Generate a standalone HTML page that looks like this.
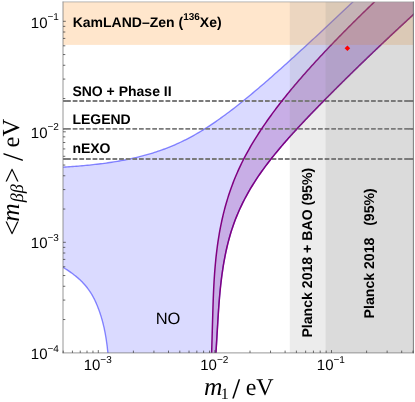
<!DOCTYPE html>
<html><head><meta charset="utf-8"><title>plot</title>
<style>html,body{margin:0;padding:0;background:#fff;}body{width:415px;height:402px;overflow:hidden;font-family:"Liberation Sans",sans-serif;}svg{display:block;will-change:transform}text{text-rendering:geometricPrecision}</style>
</head><body>
<svg width="415" height="402" viewBox="0 0 415 402">
<defs><clipPath id="cp"><rect x="63.0" y="2.0" width="350.4" height="350.9"/></clipPath></defs>
<rect width="415" height="402" fill="#fff"/>
<g clip-path="url(#cp)">
<path d="M61.50,167.27 L63.36,167.15 L65.22,167.04 L67.08,166.91 L68.93,166.79 L70.79,166.65 L72.65,166.52 L74.51,166.38 L76.37,166.23 L78.23,166.08 L80.08,165.92 L81.94,165.76 L83.80,165.59 L85.66,165.42 L87.52,165.24 L89.38,165.05 L91.24,164.86 L93.09,164.66 L94.95,164.45 L96.81,164.24 L98.67,164.01 L100.53,163.78 L102.39,163.55 L104.25,163.30 L106.10,163.05 L107.96,162.78 L109.82,162.51 L111.68,162.23 L113.54,161.94 L115.40,161.64 L117.25,161.33 L119.11,161.01 L120.97,160.67 L122.83,160.33 L124.69,159.97 L126.55,159.61 L128.41,159.23 L130.26,158.84 L132.12,158.43 L133.98,158.02 L135.84,157.59 L137.70,157.14 L139.56,156.68 L141.42,156.21 L143.27,155.72 L145.13,155.22 L146.99,154.70 L148.85,154.16 L150.71,153.61 L152.57,153.04 L154.42,152.45 L156.28,151.85 L158.14,151.23 L160.00,150.59 L161.86,149.93 L163.72,149.25 L165.58,148.56 L167.43,147.84 L169.29,147.11 L171.15,146.35 L173.01,145.57 L174.87,144.78 L176.73,143.96 L178.58,143.12 L180.44,142.26 L182.30,141.38 L184.16,140.48 L186.02,139.53 L187.88,138.57 L189.74,137.59 L191.59,136.58 L193.45,135.55 L195.31,134.50 L197.17,133.43 L199.03,132.34 L200.89,131.22 L202.75,130.09 L204.60,128.93 L206.46,127.76 L208.32,126.56 L210.18,125.35 L212.04,124.11 L213.90,122.86 L215.75,121.59 L217.61,120.29 L219.47,118.99 L221.33,117.66 L223.19,116.32 L225.05,114.96 L226.91,113.58 L228.76,112.19 L230.62,110.78 L232.48,109.36 L234.34,107.92 L236.20,106.47 L238.06,105.01 L239.92,103.54 L241.77,102.05 L243.63,100.55 L245.49,99.04 L247.35,97.51 L249.21,95.98 L251.07,94.44 L252.92,92.89 L254.78,91.32 L256.64,89.75 L258.50,88.17 L260.36,86.59 L262.22,84.99 L264.08,83.39 L265.93,81.78 L267.79,80.16 L269.65,78.53 L271.51,76.90 L273.37,75.27 L275.23,73.62 L277.08,71.97 L278.94,70.32 L280.80,68.66 L282.66,67.00 L284.52,65.33 L286.38,63.65 L288.24,61.98 L290.09,60.29 L291.95,58.61 L293.81,56.92 L295.67,55.23 L297.53,53.53 L299.39,51.83 L301.25,50.12 L303.10,48.42 L304.96,46.71 L306.82,45.00 L308.68,43.28 L310.54,41.56 L312.40,39.85 L314.25,38.12 L316.11,36.40 L317.97,34.67 L319.83,32.94 L321.69,31.21 L323.55,29.48 L325.41,27.75 L327.26,26.01 L329.12,24.28 L330.98,22.54 L332.84,20.80 L334.70,19.06 L336.56,17.31 L338.42,15.57 L340.27,13.83 L342.13,12.08 L343.99,10.33 L345.85,8.59 L347.71,6.84 L349.57,5.09 L351.42,3.34 L353.28,1.59 L355.14,-0.16 L357.00,-1.92 L420.00,-5.00 L417.41,10.90 L416.17,12.04 L414.92,13.19 L413.67,14.33 L412.43,15.48 L411.18,16.62 L409.94,17.76 L408.70,18.91 L407.46,20.05 L406.22,21.20 L404.98,22.34 L403.75,23.48 L402.51,24.63 L401.28,25.77 L400.05,26.91 L398.82,28.06 L397.59,29.20 L396.36,30.35 L395.14,31.49 L393.92,32.63 L392.69,33.78 L391.47,34.92 L390.25,36.07 L389.03,37.21 L387.82,38.35 L386.60,39.50 L385.39,40.64 L384.18,41.79 L382.97,42.93 L381.76,44.07 L380.55,45.22 L379.34,46.36 L378.14,47.51 L376.94,48.65 L375.73,49.79 L374.53,50.94 L373.34,52.08 L372.14,53.22 L370.94,54.37 L369.75,55.51 L368.56,56.66 L367.37,57.80 L366.18,58.94 L364.99,60.09 L363.81,61.23 L362.62,62.38 L361.44,63.52 L360.26,64.66 L359.08,65.81 L357.90,66.95 L356.73,68.10 L355.55,69.24 L354.38,70.38 L353.21,71.53 L352.04,72.67 L350.87,73.81 L349.71,74.96 L348.55,76.10 L347.38,77.25 L346.22,78.39 L345.06,79.53 L343.91,80.68 L342.75,81.82 L341.60,82.97 L340.44,84.11 L339.29,85.25 L338.15,86.40 L337.00,87.54 L335.85,88.69 L334.71,89.83 L333.57,90.97 L332.43,92.12 L331.29,93.26 L330.16,94.41 L329.02,95.55 L327.89,96.69 L326.76,97.84 L325.63,98.98 L324.50,100.12 L323.38,101.27 L322.25,102.41 L321.13,103.56 L320.01,104.70 L318.89,105.84 L317.78,106.99 L316.66,108.13 L315.55,109.28 L314.44,110.42 L313.34,111.56 L312.23,112.71 L311.13,113.85 L310.03,115.00 L308.93,116.14 L307.84,117.28 L306.75,118.43 L305.66,119.57 L304.58,120.72 L303.50,121.86 L302.42,123.00 L301.35,124.15 L300.28,125.29 L299.22,126.43 L298.15,127.58 L297.10,128.72 L296.05,129.87 L295.00,131.01 L293.95,132.15 L292.91,133.30 L291.88,134.44 L290.85,135.59 L289.83,136.73 L288.81,137.87 L287.79,139.02 L286.78,140.16 L285.78,141.31 L284.78,142.45 L283.79,143.59 L282.80,144.74 L281.82,145.88 L280.85,147.02 L279.40,148.74 L277.96,150.46 L276.54,152.17 L275.13,153.89 L273.74,155.60 L272.37,157.32 L271.01,159.04 L269.66,160.75 L268.34,162.47 L267.03,164.18 L265.74,165.90 L264.47,167.62 L263.21,169.33 L261.98,171.05 L260.76,172.76 L259.57,174.48 L258.39,176.19 L257.24,177.91 L256.10,179.63 L254.99,181.34 L253.89,183.06 L252.82,184.77 L251.77,186.49 L250.73,188.21 L249.72,189.92 L248.73,191.64 L247.76,193.35 L246.81,195.07 L245.88,196.78 L244.96,198.50 L244.07,200.22 L243.20,201.93 L242.35,203.65 L241.52,205.36 L240.70,207.08 L239.91,208.80 L239.14,210.51 L238.38,212.23 L237.65,213.94 L236.93,215.66 L236.24,217.38 L235.56,219.09 L234.90,220.81 L234.27,222.52 L233.65,224.24 L233.05,225.95 L232.46,227.67 L231.90,229.39 L231.35,231.10 L230.81,232.82 L230.30,234.53 L229.80,236.25 L229.31,237.97 L228.84,239.68 L228.39,241.40 L227.95,243.11 L227.52,244.83 L227.11,246.54 L226.71,248.26 L226.32,249.98 L225.95,251.69 L225.59,253.41 L225.24,255.12 L224.90,256.84 L224.57,258.56 L224.25,260.27 L223.95,261.99 L223.65,263.70 L223.36,265.42 L223.09,267.14 L222.82,268.85 L222.56,270.57 L222.31,272.28 L222.07,274.00 L221.84,275.71 L221.61,277.43 L221.40,279.15 L221.19,280.86 L220.98,282.58 L220.79,284.29 L220.60,286.01 L220.42,287.73 L220.25,289.44 L220.08,291.16 L219.91,292.87 L219.76,294.59 L219.61,296.30 L219.46,298.02 L219.32,299.74 L219.18,301.45 L219.05,303.17 L218.92,304.88 L218.79,306.60 L218.67,308.32 L218.55,310.03 L218.44,311.75 L218.33,313.46 L218.22,315.18 L218.11,316.89 L218.00,318.61 L217.90,320.33 L217.80,322.04 L217.70,323.76 L217.59,325.47 L217.49,327.19 L217.39,328.91 L217.29,330.62 L217.18,332.34 L217.08,334.05 L216.98,335.77 L216.88,337.49 L216.78,339.20 L216.67,340.92 L216.57,342.63 L216.47,344.35 L216.37,346.06 L216.26,347.78 L216.16,349.50 L216.06,351.21 L215.96,352.93 L215.92,353.50 L107.96,353.50 L107.93,353.21 L107.79,351.91 L107.66,350.61 L107.51,349.30 L107.36,348.00 L107.21,346.70 L107.04,345.39 L106.87,344.09 L106.70,342.79 L106.51,341.49 L106.32,340.18 L106.12,338.88 L105.92,337.58 L105.70,336.28 L105.47,334.97 L105.24,333.67 L104.99,332.37 L104.74,331.07 L104.47,329.76 L104.20,328.46 L103.91,327.16 L103.61,325.85 L103.30,324.55 L102.98,323.25 L102.64,321.95 L102.29,320.64 L101.97,319.49 L101.64,318.33 L101.29,317.17 L100.94,316.01 L100.57,314.85 L100.20,313.70 L99.81,312.54 L99.40,311.38 L98.99,310.22 L98.56,309.06 L98.12,307.91 L97.67,306.75 L97.20,305.59 L96.72,304.43 L96.22,303.27 L95.71,302.12 L95.18,300.96 L94.63,299.80 L94.05,298.64 L93.45,297.49 L92.83,296.33 L92.17,295.17 L91.49,294.01 L90.77,292.85 L90.12,291.84 L89.44,290.83 L88.73,289.81 L87.99,288.80 L87.21,287.79 L86.41,286.77 L85.57,285.76 L84.70,284.75 L83.79,283.73 L82.84,282.72 L82.00,281.85 L81.13,280.98 L80.23,280.12 L79.29,279.25 L78.33,278.38 L77.33,277.51 L76.30,276.64 L75.23,275.77 L74.13,274.91 L73.00,274.04 L72.02,273.31 L71.02,272.59 L70.00,271.87 L68.94,271.14 L67.86,270.42 L66.75,269.69 L65.62,268.97 L64.45,268.25 L63.26,267.52 L62.04,266.80Z" fill="rgb(0,0,255)" fill-opacity="0.145" stroke="none"/>
<path d="M61.50,167.27 L63.36,167.15 L65.22,167.04 L67.08,166.91 L68.93,166.79 L70.79,166.65 L72.65,166.52 L74.51,166.38 L76.37,166.23 L78.23,166.08 L80.08,165.92 L81.94,165.76 L83.80,165.59 L85.66,165.42 L87.52,165.24 L89.38,165.05 L91.24,164.86 L93.09,164.66 L94.95,164.45 L96.81,164.24 L98.67,164.01 L100.53,163.78 L102.39,163.55 L104.25,163.30 L106.10,163.05 L107.96,162.78 L109.82,162.51 L111.68,162.23 L113.54,161.94 L115.40,161.64 L117.25,161.33 L119.11,161.01 L120.97,160.67 L122.83,160.33 L124.69,159.97 L126.55,159.61 L128.41,159.23 L130.26,158.84 L132.12,158.43 L133.98,158.02 L135.84,157.59 L137.70,157.14 L139.56,156.68 L141.42,156.21 L143.27,155.72 L145.13,155.22 L146.99,154.70 L148.85,154.16 L150.71,153.61 L152.57,153.04 L154.42,152.45 L156.28,151.85 L158.14,151.23 L160.00,150.59 L161.86,149.93 L163.72,149.25 L165.58,148.56 L167.43,147.84 L169.29,147.11 L171.15,146.35 L173.01,145.57 L174.87,144.78 L176.73,143.96 L178.58,143.12 L180.44,142.26 L182.30,141.38 L184.16,140.48 L186.02,139.53 L187.88,138.57 L189.74,137.59 L191.59,136.58 L193.45,135.55 L195.31,134.50 L197.17,133.43 L199.03,132.34 L200.89,131.22 L202.75,130.09 L204.60,128.93 L206.46,127.76 L208.32,126.56 L210.18,125.35 L212.04,124.11 L213.90,122.86 L215.75,121.59 L217.61,120.29 L219.47,118.99 L221.33,117.66 L223.19,116.32 L225.05,114.96 L226.91,113.58 L228.76,112.19 L230.62,110.78 L232.48,109.36 L234.34,107.92 L236.20,106.47 L238.06,105.01 L239.92,103.54 L241.77,102.05 L243.63,100.55 L245.49,99.04 L247.35,97.51 L249.21,95.98 L251.07,94.44 L252.92,92.89 L254.78,91.32 L256.64,89.75 L258.50,88.17 L260.36,86.59 L262.22,84.99 L264.08,83.39 L265.93,81.78 L267.79,80.16 L269.65,78.53 L271.51,76.90 L273.37,75.27 L275.23,73.62 L277.08,71.97 L278.94,70.32 L280.80,68.66 L282.66,67.00 L284.52,65.33 L286.38,63.65 L288.24,61.98 L290.09,60.29 L291.95,58.61 L293.81,56.92 L295.67,55.23 L297.53,53.53 L299.39,51.83 L301.25,50.12 L303.10,48.42 L304.96,46.71 L306.82,45.00 L308.68,43.28 L310.54,41.56 L312.40,39.85 L314.25,38.12 L316.11,36.40 L317.97,34.67 L319.83,32.94 L321.69,31.21 L323.55,29.48 L325.41,27.75 L327.26,26.01 L329.12,24.28 L330.98,22.54 L332.84,20.80 L334.70,19.06 L336.56,17.31 L338.42,15.57 L340.27,13.83 L342.13,12.08 L343.99,10.33 L345.85,8.59 L347.71,6.84 L349.57,5.09 L351.42,3.34 L353.28,1.59 L355.14,-0.16 L357.00,-1.92" fill="none" stroke="rgb(40,40,255)" stroke-opacity="0.55" stroke-width="1.35"/>
<path d="M62.04,266.80 L63.26,267.52 L64.45,268.25 L65.62,268.97 L66.75,269.69 L67.86,270.42 L68.94,271.14 L70.00,271.87 L71.02,272.59 L72.02,273.31 L73.00,274.04 L74.13,274.91 L75.23,275.77 L76.30,276.64 L77.33,277.51 L78.33,278.38 L79.29,279.25 L80.23,280.12 L81.13,280.98 L82.00,281.85 L82.84,282.72 L83.79,283.73 L84.70,284.75 L85.57,285.76 L86.41,286.77 L87.21,287.79 L87.99,288.80 L88.73,289.81 L89.44,290.83 L90.12,291.84 L90.77,292.85 L91.49,294.01 L92.17,295.17 L92.83,296.33 L93.45,297.49 L94.05,298.64 L94.63,299.80 L95.18,300.96 L95.71,302.12 L96.22,303.27 L96.72,304.43 L97.20,305.59 L97.67,306.75 L98.12,307.91 L98.56,309.06 L98.99,310.22 L99.40,311.38 L99.81,312.54 L100.20,313.70 L100.57,314.85 L100.94,316.01 L101.29,317.17 L101.64,318.33 L101.97,319.49 L102.29,320.64 L102.64,321.95 L102.98,323.25 L103.30,324.55 L103.61,325.85 L103.91,327.16 L104.20,328.46 L104.47,329.76 L104.74,331.07 L104.99,332.37 L105.24,333.67 L105.47,334.97 L105.70,336.28 L105.92,337.58 L106.12,338.88 L106.32,340.18 L106.51,341.49 L106.70,342.79 L106.87,344.09 L107.04,345.39 L107.21,346.70 L107.36,348.00 L107.51,349.30 L107.66,350.61 L107.79,351.91 L107.93,353.21 L107.96,353.50" fill="none" stroke="rgb(40,40,255)" stroke-opacity="0.55" stroke-width="1.35"/>
<path d="M417.41,10.90 L416.17,12.04 L414.92,13.19 L413.67,14.33 L412.43,15.48 L411.18,16.62 L409.94,17.76 L408.70,18.91 L407.46,20.05 L406.22,21.20 L404.98,22.34 L403.75,23.48 L402.51,24.63 L401.28,25.77 L400.05,26.91 L398.82,28.06 L397.59,29.20 L396.36,30.35 L395.14,31.49 L393.92,32.63 L392.69,33.78 L391.47,34.92 L390.25,36.07 L389.03,37.21 L387.82,38.35 L386.60,39.50 L385.39,40.64 L384.18,41.79 L382.97,42.93 L381.76,44.07 L380.55,45.22 L379.34,46.36 L378.14,47.51 L376.94,48.65 L375.73,49.79 L374.53,50.94 L373.34,52.08 L372.14,53.22 L370.94,54.37 L369.75,55.51 L368.56,56.66 L367.37,57.80 L366.18,58.94 L364.99,60.09 L363.81,61.23 L362.62,62.38 L361.44,63.52 L360.26,64.66 L359.08,65.81 L357.90,66.95 L356.73,68.10 L355.55,69.24 L354.38,70.38 L353.21,71.53 L352.04,72.67 L350.87,73.81 L349.71,74.96 L348.55,76.10 L347.38,77.25 L346.22,78.39 L345.06,79.53 L343.91,80.68 L342.75,81.82 L341.60,82.97 L340.44,84.11 L339.29,85.25 L338.15,86.40 L337.00,87.54 L335.85,88.69 L334.71,89.83 L333.57,90.97 L332.43,92.12 L331.29,93.26 L330.16,94.41 L329.02,95.55 L327.89,96.69 L326.76,97.84 L325.63,98.98 L324.50,100.12 L323.38,101.27 L322.25,102.41 L321.13,103.56 L320.01,104.70 L318.89,105.84 L317.78,106.99 L316.66,108.13 L315.55,109.28 L314.44,110.42 L313.34,111.56 L312.23,112.71 L311.13,113.85 L310.03,115.00 L308.93,116.14 L307.84,117.28 L306.75,118.43 L305.66,119.57 L304.58,120.72 L303.50,121.86 L302.42,123.00 L301.35,124.15 L300.28,125.29 L299.22,126.43 L298.15,127.58 L297.10,128.72 L296.05,129.87 L295.00,131.01 L293.95,132.15 L292.91,133.30 L291.88,134.44 L290.85,135.59 L289.83,136.73 L288.81,137.87 L287.79,139.02 L286.78,140.16 L285.78,141.31 L284.78,142.45 L283.79,143.59 L282.80,144.74 L281.82,145.88 L280.85,147.02 L279.40,148.74 L277.96,150.46 L276.54,152.17 L275.13,153.89 L273.74,155.60 L272.37,157.32 L271.01,159.04 L269.66,160.75 L268.34,162.47 L267.03,164.18 L265.74,165.90 L264.47,167.62 L263.21,169.33 L261.98,171.05 L260.76,172.76 L259.57,174.48 L258.39,176.19 L257.24,177.91 L256.10,179.63 L254.99,181.34 L253.89,183.06 L252.82,184.77 L251.77,186.49 L250.73,188.21 L249.72,189.92 L248.73,191.64 L247.76,193.35 L246.81,195.07 L245.88,196.78 L244.96,198.50 L244.07,200.22 L243.20,201.93 L242.35,203.65 L241.52,205.36 L240.70,207.08 L239.91,208.80 L239.14,210.51 L238.38,212.23 L237.65,213.94 L236.93,215.66 L236.24,217.38 L235.56,219.09 L234.90,220.81 L234.27,222.52 L233.65,224.24 L233.05,225.95 L232.46,227.67 L231.90,229.39 L231.35,231.10 L230.81,232.82 L230.30,234.53 L229.80,236.25 L229.31,237.97 L228.84,239.68 L228.39,241.40 L227.95,243.11 L227.52,244.83 L227.11,246.54 L226.71,248.26 L226.32,249.98 L225.95,251.69 L225.59,253.41 L225.24,255.12 L224.90,256.84 L224.57,258.56 L224.25,260.27 L223.95,261.99 L223.65,263.70 L223.36,265.42 L223.09,267.14 L222.82,268.85 L222.56,270.57 L222.31,272.28 L222.07,274.00 L221.84,275.71 L221.61,277.43 L221.40,279.15 L221.19,280.86 L220.98,282.58 L220.79,284.29 L220.60,286.01 L220.42,287.73 L220.25,289.44 L220.08,291.16 L219.91,292.87 L219.76,294.59 L219.61,296.30 L219.46,298.02 L219.32,299.74 L219.18,301.45 L219.05,303.17 L218.92,304.88 L218.79,306.60 L218.67,308.32 L218.55,310.03 L218.44,311.75 L218.33,313.46 L218.22,315.18 L218.11,316.89 L218.00,318.61 L217.90,320.33 L217.80,322.04 L217.70,323.76 L217.59,325.47 L217.49,327.19 L217.39,328.91 L217.29,330.62 L217.18,332.34 L217.08,334.05 L216.98,335.77 L216.88,337.49 L216.78,339.20 L216.67,340.92 L216.57,342.63 L216.47,344.35 L216.37,346.06 L216.26,347.78 L216.16,349.50 L216.06,351.21 L215.96,352.93 L215.92,353.50" fill="none" stroke="rgb(40,40,255)" stroke-opacity="0.55" stroke-width="1.35"/>
<path d="M378.57,-2.10 L377.34,-0.91 L376.11,0.27 L374.87,1.46 L373.64,2.65 L372.41,3.84 L371.19,5.02 L369.96,6.21 L368.74,7.40 L367.51,8.59 L366.29,9.77 L365.08,10.96 L363.86,12.15 L362.65,13.34 L361.44,14.52 L360.23,15.71 L359.02,16.90 L357.81,18.08 L356.61,19.27 L355.41,20.46 L354.21,21.65 L353.02,22.83 L351.82,24.02 L350.63,25.21 L349.45,26.40 L348.26,27.58 L347.08,28.77 L345.90,29.96 L344.72,31.14 L343.55,32.33 L342.37,33.52 L341.21,34.71 L340.04,35.89 L338.88,37.08 L337.72,38.27 L336.56,39.46 L335.41,40.64 L334.26,41.83 L333.11,43.02 L331.97,44.21 L330.83,45.39 L329.69,46.58 L328.55,47.77 L327.42,48.95 L326.30,50.14 L325.17,51.33 L324.05,52.52 L322.94,53.70 L321.82,54.89 L320.72,56.08 L319.61,57.27 L318.51,58.45 L317.41,59.64 L316.32,60.83 L315.23,62.01 L314.14,63.20 L313.06,64.39 L311.98,65.58 L310.91,66.76 L309.84,67.95 L308.77,69.14 L307.71,70.33 L306.66,71.51 L305.60,72.70 L304.55,73.89 L303.51,75.08 L302.47,76.26 L301.44,77.45 L300.41,78.64 L299.38,79.82 L298.36,81.01 L297.34,82.20 L296.33,83.39 L295.33,84.57 L294.32,85.76 L293.33,86.95 L292.33,88.14 L291.35,89.32 L290.36,90.51 L289.39,91.70 L288.42,92.88 L287.45,94.07 L286.49,95.26 L285.53,96.45 L284.58,97.63 L283.63,98.82 L282.69,100.01 L281.76,101.20 L280.83,102.38 L279.90,103.57 L278.98,104.76 L277.62,106.54 L276.26,108.32 L274.92,110.10 L273.59,111.88 L272.27,113.66 L270.97,115.44 L269.68,117.22 L268.41,119.01 L267.15,120.79 L265.90,122.57 L264.67,124.35 L263.45,126.13 L262.25,127.91 L261.06,129.69 L259.88,131.47 L258.72,133.25 L257.58,135.03 L256.45,136.82 L255.34,138.60 L254.24,140.38 L253.16,142.16 L252.09,143.94 L251.04,145.72 L250.01,147.50 L248.99,149.28 L247.99,151.06 L247.01,152.84 L246.04,154.63 L245.09,156.41 L244.16,158.19 L243.25,159.97 L242.35,161.75 L241.47,163.53 L240.61,165.31 L239.77,167.09 L238.94,168.87 L238.14,170.65 L237.35,172.43 L236.57,174.22 L235.82,176.00 L235.08,177.78 L234.35,179.56 L233.65,181.34 L232.96,183.12 L232.28,184.90 L231.63,186.68 L230.98,188.46 L230.36,190.24 L229.75,192.03 L229.15,193.81 L228.57,195.59 L228.00,197.37 L227.45,199.15 L226.91,200.93 L226.38,202.71 L225.87,204.49 L225.37,206.27 L224.89,208.05 L224.42,209.84 L223.96,211.62 L223.52,213.40 L223.09,215.18 L222.67,216.96 L222.26,218.74 L221.86,220.52 L221.48,222.30 L221.11,224.08 L220.74,225.86 L220.39,227.64 L220.06,229.43 L219.73,231.21 L219.41,232.99 L219.10,234.77 L218.81,236.55 L218.52,238.33 L218.24,240.11 L217.97,241.89 L217.72,243.67 L217.47,245.45 L217.23,247.24 L217.00,249.02 L216.77,250.80 L216.56,252.58 L216.35,254.36 L216.15,256.14 L215.96,257.92 L215.78,259.70 L215.61,261.48 L215.44,263.26 L215.28,265.05 L215.12,266.83 L214.97,268.61 L214.83,270.39 L214.69,272.17 L214.56,273.95 L214.44,275.73 L214.32,277.51 L214.21,279.29 L214.10,281.07 L214.00,282.85 L213.90,284.64 L213.81,286.42 L213.72,288.20 L213.63,289.98 L213.55,291.76 L213.47,293.54 L213.40,295.32 L213.33,297.10 L213.26,298.88 L213.19,300.66 L213.13,302.45 L213.07,304.23 L213.01,306.01 L212.96,307.79 L212.91,309.57 L212.85,311.35 L212.80,313.13 L212.75,314.91 L212.70,316.69 L212.65,318.47 L212.59,320.26 L212.54,322.04 L212.49,323.82 L212.44,325.60 L212.39,327.38 L212.33,329.16 L212.28,330.94 L212.23,332.72 L212.18,334.50 L212.13,336.28 L212.08,338.06 L212.02,339.85 L211.97,341.63 L211.92,343.41 L211.87,345.19 L211.82,346.97 L211.77,348.75 L211.71,350.53 L211.66,352.31 L211.63,353.50 L215.92,353.50 L215.96,352.93 L216.06,351.21 L216.16,349.50 L216.26,347.78 L216.37,346.06 L216.47,344.35 L216.57,342.63 L216.67,340.92 L216.78,339.20 L216.88,337.49 L216.98,335.77 L217.08,334.05 L217.18,332.34 L217.29,330.62 L217.39,328.91 L217.49,327.19 L217.59,325.47 L217.70,323.76 L217.80,322.04 L217.90,320.33 L218.00,318.61 L218.11,316.89 L218.22,315.18 L218.33,313.46 L218.44,311.75 L218.55,310.03 L218.67,308.32 L218.79,306.60 L218.92,304.88 L219.05,303.17 L219.18,301.45 L219.32,299.74 L219.46,298.02 L219.61,296.30 L219.76,294.59 L219.91,292.87 L220.08,291.16 L220.25,289.44 L220.42,287.73 L220.60,286.01 L220.79,284.29 L220.98,282.58 L221.19,280.86 L221.40,279.15 L221.61,277.43 L221.84,275.71 L222.07,274.00 L222.31,272.28 L222.56,270.57 L222.82,268.85 L223.09,267.14 L223.36,265.42 L223.65,263.70 L223.95,261.99 L224.25,260.27 L224.57,258.56 L224.90,256.84 L225.24,255.12 L225.59,253.41 L225.95,251.69 L226.32,249.98 L226.71,248.26 L227.11,246.54 L227.52,244.83 L227.95,243.11 L228.39,241.40 L228.84,239.68 L229.31,237.97 L229.80,236.25 L230.30,234.53 L230.81,232.82 L231.35,231.10 L231.90,229.39 L232.46,227.67 L233.05,225.95 L233.65,224.24 L234.27,222.52 L234.90,220.81 L235.56,219.09 L236.24,217.38 L236.93,215.66 L237.65,213.94 L238.38,212.23 L239.14,210.51 L239.91,208.80 L240.70,207.08 L241.52,205.36 L242.35,203.65 L243.20,201.93 L244.07,200.22 L244.96,198.50 L245.88,196.78 L246.81,195.07 L247.76,193.35 L248.73,191.64 L249.72,189.92 L250.73,188.21 L251.77,186.49 L252.82,184.77 L253.89,183.06 L254.99,181.34 L256.10,179.63 L257.24,177.91 L258.39,176.19 L259.57,174.48 L260.76,172.76 L261.98,171.05 L263.21,169.33 L264.47,167.62 L265.74,165.90 L267.03,164.18 L268.34,162.47 L269.66,160.75 L271.01,159.04 L272.37,157.32 L273.74,155.60 L275.13,153.89 L276.54,152.17 L277.96,150.46 L279.40,148.74 L280.85,147.02 L281.82,145.88 L282.80,144.74 L283.79,143.59 L284.78,142.45 L285.78,141.31 L286.78,140.16 L287.79,139.02 L288.81,137.87 L289.83,136.73 L290.85,135.59 L291.88,134.44 L292.91,133.30 L293.95,132.15 L295.00,131.01 L296.05,129.87 L297.10,128.72 L298.15,127.58 L299.22,126.43 L300.28,125.29 L301.35,124.15 L302.42,123.00 L303.50,121.86 L304.58,120.72 L305.66,119.57 L306.75,118.43 L307.84,117.28 L308.93,116.14 L310.03,115.00 L311.13,113.85 L312.23,112.71 L313.34,111.56 L314.44,110.42 L315.55,109.28 L316.66,108.13 L317.78,106.99 L318.89,105.84 L320.01,104.70 L321.13,103.56 L322.25,102.41 L323.38,101.27 L324.50,100.12 L325.63,98.98 L326.76,97.84 L327.89,96.69 L329.02,95.55 L330.16,94.41 L331.29,93.26 L332.43,92.12 L333.57,90.97 L334.71,89.83 L335.85,88.69 L337.00,87.54 L338.15,86.40 L339.29,85.25 L340.44,84.11 L341.60,82.97 L342.75,81.82 L343.91,80.68 L345.06,79.53 L346.22,78.39 L347.38,77.25 L348.55,76.10 L349.71,74.96 L350.87,73.81 L352.04,72.67 L353.21,71.53 L354.38,70.38 L355.55,69.24 L356.73,68.10 L357.90,66.95 L359.08,65.81 L360.26,64.66 L361.44,63.52 L362.62,62.38 L363.81,61.23 L364.99,60.09 L366.18,58.94 L367.37,57.80 L368.56,56.66 L369.75,55.51 L370.94,54.37 L372.14,53.22 L373.34,52.08 L374.53,50.94 L375.73,49.79 L376.94,48.65 L378.14,47.51 L379.34,46.36 L380.55,45.22 L381.76,44.07 L382.97,42.93 L384.18,41.79 L385.39,40.64 L386.60,39.50 L387.82,38.35 L389.03,37.21 L390.25,36.07 L391.47,34.92 L392.69,33.78 L393.92,32.63 L395.14,31.49 L396.36,30.35 L397.59,29.20 L398.82,28.06 L400.05,26.91 L401.28,25.77 L402.51,24.63 L403.75,23.48 L404.98,22.34 L406.22,21.20 L407.46,20.05 L408.70,18.91 L409.94,17.76 L411.18,16.62 L412.43,15.48 L413.67,14.33 L414.92,13.19 L416.17,12.04 L417.41,10.90 L420.00,-5.00Z" fill="rgb(128,0,128)" fill-opacity="0.2" stroke="none"/>
<line x1="63.0" y1="101.05" x2="413.4" y2="101.05" stroke="#7a7a7a" stroke-width="1.9" stroke-dasharray="4.75 1.88" stroke-dashoffset="3.56"/>
<path d="M63.0,101.05 H66.5 M408.5,101.05 H413.4" stroke="#7a7a7a" stroke-width="1.9" fill="none"/>
<line x1="63.0" y1="128.85" x2="413.4" y2="128.85" stroke="#7a7a7a" stroke-width="1.9" stroke-dasharray="4.75 1.88" stroke-dashoffset="3.56"/>
<path d="M63.0,128.85 H66.5 M408.5,128.85 H413.4" stroke="#7a7a7a" stroke-width="1.9" fill="none"/>
<line x1="63.0" y1="159.05" x2="413.4" y2="159.05" stroke="#7a7a7a" stroke-width="1.9" stroke-dasharray="4.75 1.88" stroke-dashoffset="3.56"/>
<path d="M63.0,159.05 H66.5 M408.5,159.05 H413.4" stroke="#7a7a7a" stroke-width="1.9" fill="none"/>
<path d="M378.57,-2.10 L377.34,-0.91 L376.11,0.27 L374.87,1.46 L373.64,2.65 L372.41,3.84 L371.19,5.02 L369.96,6.21 L368.74,7.40 L367.51,8.59 L366.29,9.77 L365.08,10.96 L363.86,12.15 L362.65,13.34 L361.44,14.52 L360.23,15.71 L359.02,16.90 L357.81,18.08 L356.61,19.27 L355.41,20.46 L354.21,21.65 L353.02,22.83 L351.82,24.02 L350.63,25.21 L349.45,26.40 L348.26,27.58 L347.08,28.77 L345.90,29.96 L344.72,31.14 L343.55,32.33 L342.37,33.52 L341.21,34.71 L340.04,35.89 L338.88,37.08 L337.72,38.27 L336.56,39.46 L335.41,40.64 L334.26,41.83 L333.11,43.02 L331.97,44.21 L330.83,45.39 L329.69,46.58 L328.55,47.77 L327.42,48.95 L326.30,50.14 L325.17,51.33 L324.05,52.52 L322.94,53.70 L321.82,54.89 L320.72,56.08 L319.61,57.27 L318.51,58.45 L317.41,59.64 L316.32,60.83 L315.23,62.01 L314.14,63.20 L313.06,64.39 L311.98,65.58 L310.91,66.76 L309.84,67.95 L308.77,69.14 L307.71,70.33 L306.66,71.51 L305.60,72.70 L304.55,73.89 L303.51,75.08 L302.47,76.26 L301.44,77.45 L300.41,78.64 L299.38,79.82 L298.36,81.01 L297.34,82.20 L296.33,83.39 L295.33,84.57 L294.32,85.76 L293.33,86.95 L292.33,88.14 L291.35,89.32 L290.36,90.51 L289.39,91.70 L288.42,92.88 L287.45,94.07 L286.49,95.26 L285.53,96.45 L284.58,97.63 L283.63,98.82 L282.69,100.01 L281.76,101.20 L280.83,102.38 L279.90,103.57 L278.98,104.76 L277.62,106.54 L276.26,108.32 L274.92,110.10 L273.59,111.88 L272.27,113.66 L270.97,115.44 L269.68,117.22 L268.41,119.01 L267.15,120.79 L265.90,122.57 L264.67,124.35 L263.45,126.13 L262.25,127.91 L261.06,129.69 L259.88,131.47 L258.72,133.25 L257.58,135.03 L256.45,136.82 L255.34,138.60 L254.24,140.38 L253.16,142.16 L252.09,143.94 L251.04,145.72 L250.01,147.50 L248.99,149.28 L247.99,151.06 L247.01,152.84 L246.04,154.63 L245.09,156.41 L244.16,158.19 L243.25,159.97 L242.35,161.75 L241.47,163.53 L240.61,165.31 L239.77,167.09 L238.94,168.87 L238.14,170.65 L237.35,172.43 L236.57,174.22 L235.82,176.00 L235.08,177.78 L234.35,179.56 L233.65,181.34 L232.96,183.12 L232.28,184.90 L231.63,186.68 L230.98,188.46 L230.36,190.24 L229.75,192.03 L229.15,193.81 L228.57,195.59 L228.00,197.37 L227.45,199.15 L226.91,200.93 L226.38,202.71 L225.87,204.49 L225.37,206.27 L224.89,208.05 L224.42,209.84 L223.96,211.62 L223.52,213.40 L223.09,215.18 L222.67,216.96 L222.26,218.74 L221.86,220.52 L221.48,222.30 L221.11,224.08 L220.74,225.86 L220.39,227.64 L220.06,229.43 L219.73,231.21 L219.41,232.99 L219.10,234.77 L218.81,236.55 L218.52,238.33 L218.24,240.11 L217.97,241.89 L217.72,243.67 L217.47,245.45 L217.23,247.24 L217.00,249.02 L216.77,250.80 L216.56,252.58 L216.35,254.36 L216.15,256.14 L215.96,257.92 L215.78,259.70 L215.61,261.48 L215.44,263.26 L215.28,265.05 L215.12,266.83 L214.97,268.61 L214.83,270.39 L214.69,272.17 L214.56,273.95 L214.44,275.73 L214.32,277.51 L214.21,279.29 L214.10,281.07 L214.00,282.85 L213.90,284.64 L213.81,286.42 L213.72,288.20 L213.63,289.98 L213.55,291.76 L213.47,293.54 L213.40,295.32 L213.33,297.10 L213.26,298.88 L213.19,300.66 L213.13,302.45 L213.07,304.23 L213.01,306.01 L212.96,307.79 L212.91,309.57 L212.85,311.35 L212.80,313.13 L212.75,314.91 L212.70,316.69 L212.65,318.47 L212.59,320.26 L212.54,322.04 L212.49,323.82 L212.44,325.60 L212.39,327.38 L212.33,329.16 L212.28,330.94 L212.23,332.72 L212.18,334.50 L212.13,336.28 L212.08,338.06 L212.02,339.85 L211.97,341.63 L211.92,343.41 L211.87,345.19 L211.82,346.97 L211.77,348.75 L211.71,350.53 L211.66,352.31 L211.63,353.50" fill="none" stroke="#800080" stroke-width="1.5"/>
<path d="M417.41,10.90 L416.17,12.04 L414.92,13.19 L413.67,14.33 L412.43,15.48 L411.18,16.62 L409.94,17.76 L408.70,18.91 L407.46,20.05 L406.22,21.20 L404.98,22.34 L403.75,23.48 L402.51,24.63 L401.28,25.77 L400.05,26.91 L398.82,28.06 L397.59,29.20 L396.36,30.35 L395.14,31.49 L393.92,32.63 L392.69,33.78 L391.47,34.92 L390.25,36.07 L389.03,37.21 L387.82,38.35 L386.60,39.50 L385.39,40.64 L384.18,41.79 L382.97,42.93 L381.76,44.07 L380.55,45.22 L379.34,46.36 L378.14,47.51 L376.94,48.65 L375.73,49.79 L374.53,50.94 L373.34,52.08 L372.14,53.22 L370.94,54.37 L369.75,55.51 L368.56,56.66 L367.37,57.80 L366.18,58.94 L364.99,60.09 L363.81,61.23 L362.62,62.38 L361.44,63.52 L360.26,64.66 L359.08,65.81 L357.90,66.95 L356.73,68.10 L355.55,69.24 L354.38,70.38 L353.21,71.53 L352.04,72.67 L350.87,73.81 L349.71,74.96 L348.55,76.10 L347.38,77.25 L346.22,78.39 L345.06,79.53 L343.91,80.68 L342.75,81.82 L341.60,82.97 L340.44,84.11 L339.29,85.25 L338.15,86.40 L337.00,87.54 L335.85,88.69 L334.71,89.83 L333.57,90.97 L332.43,92.12 L331.29,93.26 L330.16,94.41 L329.02,95.55 L327.89,96.69 L326.76,97.84 L325.63,98.98 L324.50,100.12 L323.38,101.27 L322.25,102.41 L321.13,103.56 L320.01,104.70 L318.89,105.84 L317.78,106.99 L316.66,108.13 L315.55,109.28 L314.44,110.42 L313.34,111.56 L312.23,112.71 L311.13,113.85 L310.03,115.00 L308.93,116.14 L307.84,117.28 L306.75,118.43 L305.66,119.57 L304.58,120.72 L303.50,121.86 L302.42,123.00 L301.35,124.15 L300.28,125.29 L299.22,126.43 L298.15,127.58 L297.10,128.72 L296.05,129.87 L295.00,131.01 L293.95,132.15 L292.91,133.30 L291.88,134.44 L290.85,135.59 L289.83,136.73 L288.81,137.87 L287.79,139.02 L286.78,140.16 L285.78,141.31 L284.78,142.45 L283.79,143.59 L282.80,144.74 L281.82,145.88 L280.85,147.02 L279.40,148.74 L277.96,150.46 L276.54,152.17 L275.13,153.89 L273.74,155.60 L272.37,157.32 L271.01,159.04 L269.66,160.75 L268.34,162.47 L267.03,164.18 L265.74,165.90 L264.47,167.62 L263.21,169.33 L261.98,171.05 L260.76,172.76 L259.57,174.48 L258.39,176.19 L257.24,177.91 L256.10,179.63 L254.99,181.34 L253.89,183.06 L252.82,184.77 L251.77,186.49 L250.73,188.21 L249.72,189.92 L248.73,191.64 L247.76,193.35 L246.81,195.07 L245.88,196.78 L244.96,198.50 L244.07,200.22 L243.20,201.93 L242.35,203.65 L241.52,205.36 L240.70,207.08 L239.91,208.80 L239.14,210.51 L238.38,212.23 L237.65,213.94 L236.93,215.66 L236.24,217.38 L235.56,219.09 L234.90,220.81 L234.27,222.52 L233.65,224.24 L233.05,225.95 L232.46,227.67 L231.90,229.39 L231.35,231.10 L230.81,232.82 L230.30,234.53 L229.80,236.25 L229.31,237.97 L228.84,239.68 L228.39,241.40 L227.95,243.11 L227.52,244.83 L227.11,246.54 L226.71,248.26 L226.32,249.98 L225.95,251.69 L225.59,253.41 L225.24,255.12 L224.90,256.84 L224.57,258.56 L224.25,260.27 L223.95,261.99 L223.65,263.70 L223.36,265.42 L223.09,267.14 L222.82,268.85 L222.56,270.57 L222.31,272.28 L222.07,274.00 L221.84,275.71 L221.61,277.43 L221.40,279.15 L221.19,280.86 L220.98,282.58 L220.79,284.29 L220.60,286.01 L220.42,287.73 L220.25,289.44 L220.08,291.16 L219.91,292.87 L219.76,294.59 L219.61,296.30 L219.46,298.02 L219.32,299.74 L219.18,301.45 L219.05,303.17 L218.92,304.88 L218.79,306.60 L218.67,308.32 L218.55,310.03 L218.44,311.75 L218.33,313.46 L218.22,315.18 L218.11,316.89 L218.00,318.61 L217.90,320.33 L217.80,322.04 L217.70,323.76 L217.59,325.47 L217.49,327.19 L217.39,328.91 L217.29,330.62 L217.18,332.34 L217.08,334.05 L216.98,335.77 L216.88,337.49 L216.78,339.20 L216.67,340.92 L216.57,342.63 L216.47,344.35 L216.37,346.06 L216.26,347.78 L216.16,349.50 L216.06,351.21 L215.96,352.93 L215.92,353.50" fill="none" stroke="#800080" stroke-width="1.5"/>
<rect x="63.0" y="2.0" width="350.4" height="42.90" fill="rgb(255,128,0)" fill-opacity="0.2"/>
<rect x="289.8" y="2.0" width="123.59999999999997" height="350.9" fill="rgb(128,128,128)" fill-opacity="0.15"/>
<rect x="325.6" y="2.0" width="87.79999999999995" height="350.9" fill="rgb(128,128,128)" fill-opacity="0.15"/>
<path d="M344.59999999999997,48.2 L347.4,45.400000000000006 L350.2,48.2 L347.4,51.0Z" fill="#ff0000"/>
</g>
<path d="M63.0,1.6 V353.29999999999995 M62.6,352.9 H413.79999999999995" fill="none" stroke="#7c7c7c" stroke-width="0.8"/>
<path d="M62.6,1.9 H413.79999999999995" fill="none" stroke="#9a9a9a" stroke-width="0.7"/>
<path d="M413.4,1.6 V353.29999999999995" fill="none" stroke="#5a5a5a" stroke-width="0.8"/>
<path d="M63.20,352.9 v-2.3 M72.43,352.9 v-2.3 M80.24,352.9 v-2.3 M87.00,352.9 v-2.3 M92.96,352.9 v-2.3 M98.30,352.9 v-2.8 M133.40,352.9 v-2.3 M153.93,352.9 v-2.3 M168.50,352.9 v-2.3 M179.80,352.9 v-2.3 M189.03,352.9 v-2.3 M196.84,352.9 v-2.3 M203.60,352.9 v-2.3 M209.56,352.9 v-2.3 M214.90,352.9 v-2.8 M250.00,352.9 v-2.3 M270.53,352.9 v-2.3 M285.10,352.9 v-2.3 M296.40,352.9 v-2.3 M305.63,352.9 v-2.3 M313.44,352.9 v-2.3 M320.20,352.9 v-2.3 M326.16,352.9 v-2.3 M331.50,352.9 v-2.8 M366.60,352.9 v-2.3 M387.13,352.9 v-2.3 M401.70,352.9 v-2.3 M413.00,352.9 v-2.3 M63.0,319.54 h2.3 M63.0,300.08 h2.3 M63.0,286.27 h2.3 M63.0,275.56 h2.3 M63.0,266.81 h2.3 M63.0,259.42 h2.3 M63.0,253.01 h2.3 M63.0,247.36 h2.3 M63.0,242.30 h2.8 M63.0,209.04 h2.3 M63.0,189.58 h2.3 M63.0,175.77 h2.3 M63.0,165.06 h2.3 M63.0,156.31 h2.3 M63.0,148.92 h2.3 M63.0,142.51 h2.3 M63.0,136.86 h2.3 M63.0,131.80 h2.8 M63.0,98.54 h2.3 M63.0,79.08 h2.3 M63.0,65.27 h2.3 M63.0,54.56 h2.3 M63.0,45.81 h2.3 M63.0,38.42 h2.3 M63.0,32.01 h2.3 M63.0,26.36 h2.3 M63.0,21.30 h2.8" stroke="#3c3c3c" stroke-width="0.75" fill="none"/>
<text x="83.66" y="370.30" font-family="'Liberation Sans', sans-serif" font-size="15" fill="#000">10</text><text x="100.34" y="362.85" font-family="'Liberation Sans', sans-serif" font-size="10" fill="#000">−3</text>
<text x="200.26" y="370.30" font-family="'Liberation Sans', sans-serif" font-size="15" fill="#000">10</text><text x="216.94" y="362.85" font-family="'Liberation Sans', sans-serif" font-size="10" fill="#000">−2</text>
<text x="316.86" y="370.30" font-family="'Liberation Sans', sans-serif" font-size="15" fill="#000">10</text><text x="333.54" y="362.85" font-family="'Liberation Sans', sans-serif" font-size="10" fill="#000">−1</text>
<text x="30.82" y="27.85" font-family="'Liberation Sans', sans-serif" font-size="15" fill="#000">10</text><text x="47.50" y="20.40" font-family="'Liberation Sans', sans-serif" font-size="10" fill="#000">−1</text>
<text x="30.82" y="137.90" font-family="'Liberation Sans', sans-serif" font-size="15" fill="#000">10</text><text x="47.50" y="130.45" font-family="'Liberation Sans', sans-serif" font-size="10" fill="#000">−2</text>
<text x="30.82" y="248.20" font-family="'Liberation Sans', sans-serif" font-size="15" fill="#000">10</text><text x="47.50" y="240.75" font-family="'Liberation Sans', sans-serif" font-size="10" fill="#000">−3</text>
<text x="30.82" y="359.10" font-family="'Liberation Sans', sans-serif" font-size="15" fill="#000">10</text><text x="47.50" y="351.65" font-family="'Liberation Sans', sans-serif" font-size="10" fill="#000">−4</text>
<text x="72.7" y="26.7" font-family="'Liberation Sans', sans-serif" font-size="14" font-weight="bold" fill="#000">KamLAND–Zen (<tspan font-size="10" dy="-6.5">136</tspan><tspan dy="6.5">Xe)</tspan></text>
<text x="72.4" y="96.2" font-family="'Liberation Sans', sans-serif" font-size="14" font-weight="bold" fill="#000">SNO + Phase II</text>
<text x="72.4" y="123.9" font-family="'Liberation Sans', sans-serif" font-size="14" font-weight="bold" fill="#000">LEGEND</text>
<text x="72.4" y="153.4" font-family="'Liberation Sans', sans-serif" font-size="14" font-weight="bold" fill="#000">nEXO</text>
<text x="155.7" y="324.4" font-family="'Liberation Sans', sans-serif" font-size="16.5" fill="#000">NO</text>
<text transform="translate(312.2,337.6) rotate(-90)" font-family="'Liberation Sans', sans-serif" font-size="14.12" font-weight="bold" fill="#000">Planck 2018 + BAO (95%)</text>
<text transform="translate(374.3,318.4) rotate(-90)" font-family="'Liberation Sans', sans-serif" font-size="14.12" font-weight="bold" fill="#000" xml:space="preserve" style="white-space:pre">Planck 2018   (95%)</text>
<text x="204.1" y="394.6" font-family="'Liberation Serif', serif" font-size="25.5" font-style="italic" fill="#000">m</text>
<text x="220.7" y="398.9" font-family="'Liberation Serif', serif" font-size="16" fill="#000">1</text>
<path d="M232.2,398.5 h1.6 L240.2,379.2 h-1.6Z" fill="#000"/>
<text x="245.7" y="394.6" font-family="'Liberation Serif', serif" font-size="24" fill="#000">eV</text>
<g transform="translate(18.9,235.2) rotate(-90)" font-family="'Liberation Serif', serif" font-size="24.5" fill="#000"><text x="-0.2" y="2.5" font-size="27">&lt;</text><text x="13.5" y="0" font-style="italic" font-size="25.5">m</text><text x="33.0" y="4.0" font-style="italic" font-size="18">ββ</text><text x="52.5" y="2.5" font-size="27">&gt;</text><path d="M74.2,3.9 h1.6 L82.2,-15.4 h-1.6Z"/><text x="87.8" y="0">eV</text></g>
</svg>
</body></html>
